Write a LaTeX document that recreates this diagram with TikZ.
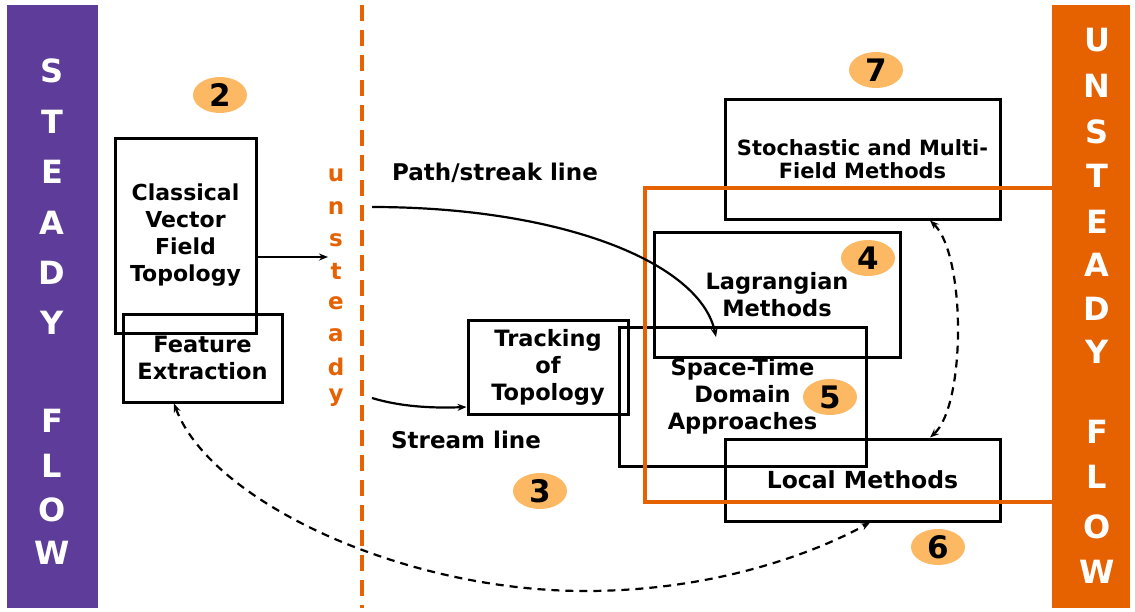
\documentclass[tikz,border=0pt]{standalone}
\usepackage{fontspec}
\setmainfont{DejaVu Sans}
\usetikzlibrary{shapes.geometric,arrows.meta}
\definecolor{barpurple}{RGB}{94,60,153}
\definecolor{barorange}{RGB}{230,97,0}
\definecolor{badge}{RGB}{253,184,99}
\tikzset{
  boxnode/.style={draw=black, line width=3pt, inner sep=0pt, align=center,
    font=\bfseries\fontsize{22.5}{27}\selectfont},
  barletter/.style={text=white, inner sep=0pt, font=\bfseries\fontsize{32}{32}\selectfont},
  unsletter/.style={text=barorange, inner sep=0pt, font=\bfseries\fontsize{23}{23}\selectfont},
  lbl/.style={inner sep=0pt, font=\bfseries\fontsize{23}{26}\selectfont},
  badgenode/.style={ellipse, fill=badge, minimum width=54pt, minimum height=36pt, inner sep=0pt,
    font=\bfseries\fontsize{31}{31}\selectfont},
  conn/.style={line width=2.2pt, -{Stealth[length=9pt,width=7pt]}},
  dconn/.style={line width=2.2pt, dash pattern=on 8pt off 6pt, {Stealth[length=9pt,width=7pt]}-{Stealth[length=9pt,width=7pt]}},
}
\begin{document}
\begin{tikzpicture}[x=1pt,y=-1pt]
\useasboundingbox (0,0) rectangle (1135,611);
\fill[white] (0,0) rectangle (1135,611);
% side bars
\fill[barpurple] (7,5) rectangle (98,608);
\fill[barorange] (1052,5) rectangle (1130,608);
% left bar letters
\foreach \l/\y [count=\i] in {S/71,T/122,E/172,A/223,D/273,Y/323,F/421,L/466,O/510,W/553}
  \node[barletter] (sl\i) at (52,\y) {\l};
% right bar letters
\foreach \l/\y [count=\i] in {U/40,N/86,S/132,T/176,E/222,A/265,D/309,Y/352,F/432,L/477,O/527,W/572}
  \node[barletter] (ul\i) at (1097,\y) {\l};
% orange dashed divider
\draw[barorange, line width=4pt, dash pattern=on 16pt off 9pt] (362,5) -- (362,608);
% unsteady letters
\foreach \l/\y [count=\i] in {u/175,n/208,s/240,t/271,e/303,a/335,d/367,y/398}
  \node[unsletter] (us\i) at (336,\y) {\l};
% boxes
\node[boxnode, minimum width=141pt, minimum height=195pt, font=\bfseries\fontsize{22}{27}\selectfont] (cvft) at (185.5,235.5) {Classical\\Vector\\Field\\Topology};
\node[boxnode, minimum width=159pt, minimum height=88pt] (fe) at (202.5,358) {Feature\\Extraction};
\node[boxnode, minimum width=160pt, minimum height=94pt] (tt) at (548,367) {Tracking\\of\\Topology};
\node[boxnode, minimum width=247pt, minimum height=139pt] (st) at (742.5,396.5) {Space-Time\\Domain\\Approaches};
\node[boxnode, minimum width=246pt, minimum height=125pt] (lm) at (777,294.5) {Lagrangian\\Methods};
\node[boxnode, minimum width=275pt, minimum height=120pt, font=\bfseries\fontsize{21}{23.5}\selectfont] (sm) at (862.5,159) {Stochastic and Multi-\\Field Methods};
\node[boxnode, minimum width=275pt, minimum height=82pt, font=\bfseries\fontsize{23.5}{27}\selectfont] (loc) at (862.5,480) {Local Methods};
% orange frame
\draw[barorange, line width=4.5pt] (1052,188) -- (645,188) -- (645,502) -- (1052,502);
% badges
\node[badgenode] (b2) at (220,95) {2};
\node[badgenode] (b7) at (876,70) {7};
\node[badgenode] (b4) at (868,258) {4};
\node[badgenode] (b5) at (830,397) {5};
\node[badgenode] (b3) at (540,491) {3};
\node[badgenode] (b6) at (938,547) {6};
% labels
\node[lbl] (pl) at (495,173) {Path/streak line};
\node[lbl] (sl) at (466,440) {Stream line};
% connectors
\coordinate (u1) at (328,257);
\draw[conn] (cvft.east |- u1) -- (u1);
\coordinate (ps0) at (372,207);
\coordinate (ps1) at (716,337);
\draw[conn] (ps0) .. controls (560,207) and (700,262) .. (ps1);
\coordinate (sl0) at (372,398);
\draw[conn] (sl0) .. controls (405,408) and (440,408) .. (tt.west |- 0,407);
\coordinate (bm) at (585,591);
\draw[dconn] (fe.south -| 174,0) .. controls (210,500) and (400,591) .. (bm) .. controls (720,591) and (820,550) .. (loc.south -| 870,0);
\draw[dconn] (sm.south -| 930,0) .. controls (966,255) and (966,405) .. (loc.north -| 930,0);
\end{tikzpicture}
\end{document}
